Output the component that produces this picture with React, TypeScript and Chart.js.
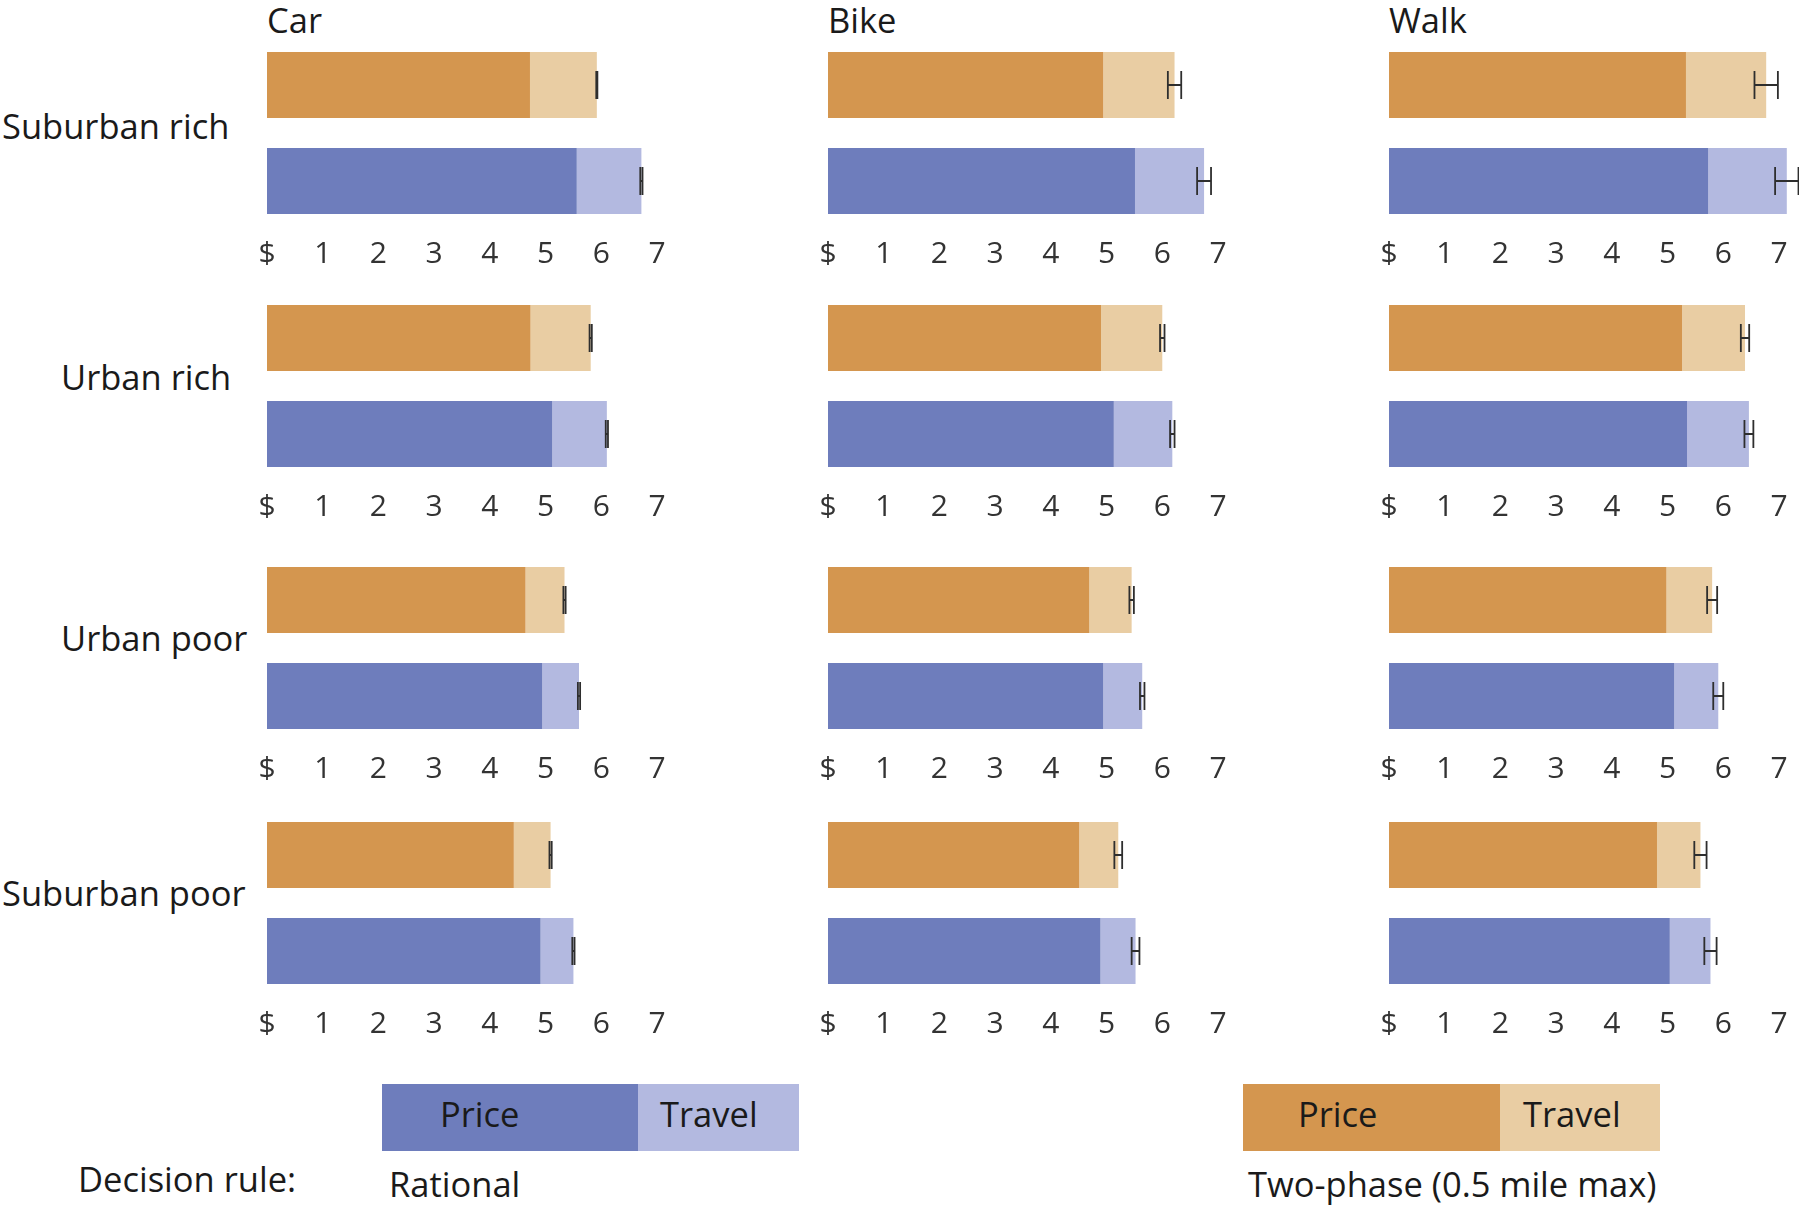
import React, { useEffect, useRef } from "react";
import { Chart, registerables } from "chart.js";

Chart.register(...registerables);

// ---------- data ----------
const MODES = ["Car", "Bike", "Walk"];
const GROUPS = ["Suburban rich", "Urban rich", "Urban poor", "Suburban poor"];
const DECISION_RULES = ["Two-phase", "Rational"];
const TICK_LABELS = ["$", "1", "2", "3", "4", "5", "6", "7"];

// rows: GROUPS, columns: MODES
const twoPhasePrice = [
  [4.72, 4.94, 5.33],
  [4.73, 4.9, 5.26],
  [4.64, 4.69, 4.98],
  [4.43, 4.51, 4.81],
];
const twoPhaseTravel = [
  [1.2, 1.28, 1.44],
  [1.08, 1.1, 1.13],
  [0.7, 0.76, 0.82],
  [0.66, 0.7, 0.78],
];
const twoPhaseErr = [
  [0.01, 0.12, 0.21],
  [0.02, 0.04, 0.075],
  [0.02, 0.04, 0.09],
  [0.02, 0.07, 0.11],
];
const rationalPrice = [
  [5.56, 5.51, 5.73],
  [5.12, 5.13, 5.35],
  [4.94, 4.94, 5.12],
  [4.91, 4.89, 5.04],
];
const rationalTravel = [
  [1.16, 1.24, 1.41],
  [0.98, 1.05, 1.11],
  [0.66, 0.7, 0.79],
  [0.59, 0.63, 0.73],
];
const rationalErr = [
  [0.02, 0.125, 0.21],
  [0.02, 0.04, 0.08],
  [0.02, 0.04, 0.09],
  [0.02, 0.07, 0.11],
];

// ---------- styles / layout ----------
const ORANGE = "#D4964F";
const ORANGE_LIGHT = "#E9CDA3";
const BLUE = "#6E7DBC";
const BLUE_LIGHT = "#B3B9E0";
const FONT = "'Open Sans', 'Noto Sans', sans-serif";

const COL_X0 = [267, 828, 1389];
const AXIS_W = 390;
const PAD_L = 30;
const PAD_R = 20;
const ROW_TOP = [37, 290, 552, 807];
const CANVAS_H = 242;

const ROW_LABEL_POS = [
  { left: 2, cy: 126 },
  { left: 61, cy: 377 },
  { left: 61, cy: 638 },
  { left: 2, cy: 893 },
];

const errorBarPlugin = (errs: number[]) => ({
  id: "errbars",
  afterDatasetsDraw(chart: any) {
    const ctx = chart.ctx;
    const xs = chart.scales.x;
    const ys = chart.scales.y;
    const d0 = chart.data.datasets[0].data as number[];
    const d1 = chart.data.datasets[1].data as number[];
    const meta = chart.getDatasetMeta(0);
    ctx.save();
    ctx.strokeStyle = "#2e2e2e";
    ctx.lineWidth = 1.8;
    for (let i = 0; i < d0.length; i++) {
      const total = d0[i] + d1[i];
      const y = ys.getPixelForValue(i);
      const barH = meta.data[i] ? (meta.data[i] as any).height : 60;
      const h = barH * 0.21;
      const xl = xs.getPixelForValue(total - errs[i]);
      const xr = xs.getPixelForValue(total + errs[i]);
      ctx.beginPath();
      ctx.moveTo(xl, y);
      ctx.lineTo(xr, y);
      ctx.moveTo(xl, y - h);
      ctx.lineTo(xl, y + h);
      ctx.moveTo(xr, y - h);
      ctx.lineTo(xr, y + h);
      ctx.stroke();
    }
    ctx.restore();
  },
});

function Cell({ row, col }: { row: number; col: number }) {
  const ref = useRef<HTMLCanvasElement>(null);
  useEffect(() => {
    if (!ref.current) return;
    const chart = new Chart(ref.current, {
      type: "bar",
      data: {
        labels: DECISION_RULES,
        datasets: [
          {
            label: "Price",
            data: [twoPhasePrice[row][col], rationalPrice[row][col]],
            backgroundColor: [ORANGE, BLUE],
            borderWidth: 0,
            barPercentage: 0.69,
            categoryPercentage: 1,
            clip: false as any,
          },
          {
            label: "Travel",
            data: [twoPhaseTravel[row][col], rationalTravel[row][col]],
            backgroundColor: [ORANGE_LIGHT, BLUE_LIGHT],
            borderWidth: 0,
            barPercentage: 0.69,
            categoryPercentage: 1,
            clip: false as any,
          },
        ],
      },
      options: {
        indexAxis: "y",
        responsive: false,
        animation: false,
        maintainAspectRatio: false,
        layout: { padding: { left: PAD_L, right: PAD_R, top: 0, bottom: 0 } },
        plugins: { legend: { display: false }, tooltip: { enabled: false } },
        scales: {
          x: {
            stacked: true,
            min: 0,
            max: 7,
            grid: { display: false, drawTicks: false },
            border: { display: false },
            ticks: {
              stepSize: 1,
              padding: 7,
              color: "#333",
              font: { family: FONT, size: 30 },
              callback: (v: any) => TICK_LABELS[Number(v)] ?? String(v),
            },
          },
          y: {
            stacked: true,
            display: false,
          },
        },
      },
      plugins: [errorBarPlugin([twoPhaseErr[row][col], rationalErr[row][col]])],
    });
    return () => chart.destroy();
  }, [row, col]);
  return (
    <canvas
      ref={ref}
      width={AXIS_W + PAD_L + PAD_R}
      height={CANVAS_H}
      style={{
        position: "absolute",
        left: COL_X0[col] - PAD_L,
        top: ROW_TOP[row],
        width: AXIS_W + PAD_L + PAD_R,
        height: CANVAS_H,
      }}
    />
  );
}

const textStyle = (left: number, cy: number, size = 34.5): React.CSSProperties => ({
  position: "absolute",
  left,
  top: cy - 22,
  height: 44,
  lineHeight: "44px",
  fontSize: size,
  fontFamily: FONT,
  color: "#1a1a1a",
  whiteSpace: "nowrap",
});

const boxStyle = (left: number, width: number, color: string): React.CSSProperties => ({
  position: "absolute",
  left,
  top: 1084,
  width,
  height: 67,
  background: color,
});

export default function App() {
  return (
    <div
      style={{
        position: "absolute",
        left: 0,
        top: 0,
        width: 1800,
        height: 1209,
        overflow: "hidden",
        background: "#fff",
      }}
    >
      {MODES.map((m, c) => (
        <div key={m} style={textStyle(COL_X0[c], 20)}>
          {m}
        </div>
      ))}
      {GROUPS.map((g, r) => (
        <div key={g} style={textStyle(ROW_LABEL_POS[r].left, ROW_LABEL_POS[r].cy)}>
          {g}
        </div>
      ))}
      {GROUPS.map((g, r) =>
        MODES.map((m, c) => <Cell key={g + m} row={r} col={c} />)
      )}
      {/* legend */}
      <div style={boxStyle(382, 256, BLUE)} />
      <div style={boxStyle(638, 161, BLUE_LIGHT)} />
      <div style={boxStyle(1243, 257, ORANGE)} />
      <div style={boxStyle(1500, 160, ORANGE_LIGHT)} />
      <div style={textStyle(440, 1114)}>Price</div>
      <div style={textStyle(660, 1114)}>Travel</div>
      <div style={textStyle(1298, 1114)}>Price</div>
      <div style={textStyle(1523, 1114)}>Travel</div>
      <div style={textStyle(78, 1179)}>Decision rule:</div>
      <div style={textStyle(389, 1184)}>Rational</div>
      <div style={textStyle(1248, 1184)}>Two-phase (0.5 mile max)</div>
    </div>
  );
}
